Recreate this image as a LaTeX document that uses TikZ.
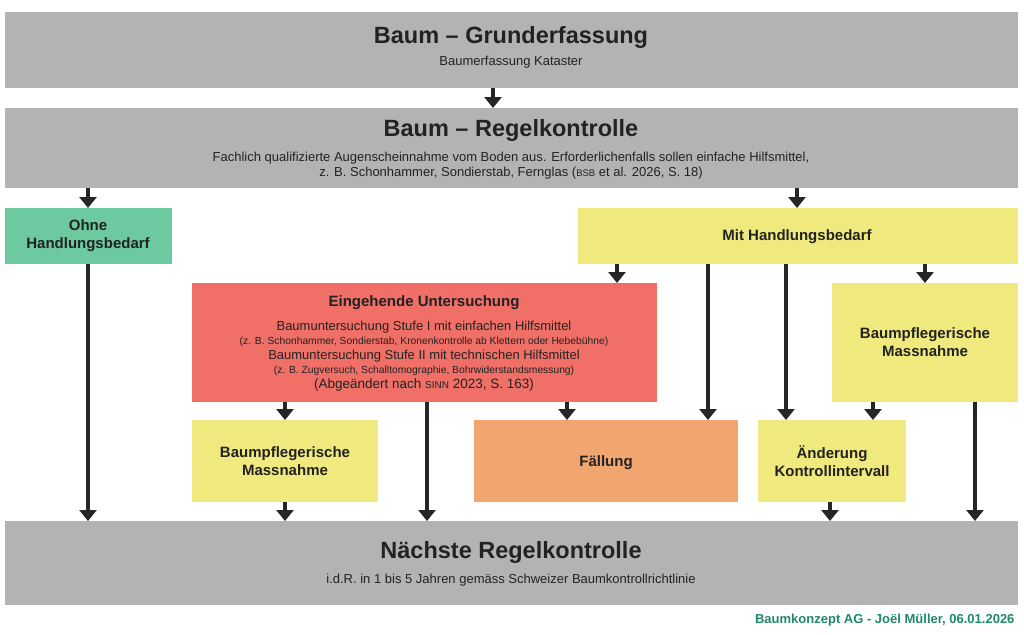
\documentclass[tikz,border=0pt]{standalone}
\usepackage{fontspec}
\setmainfont{Liberation Sans}
\usetikzlibrary{arrows.meta}
\definecolor{grau}{HTML}{B3B4B1}
\definecolor{gruen}{HTML}{6CC9A0}
\definecolor{gelb}{HTML}{F0E97E}
\definecolor{rot}{HTML}{F07068}
\definecolor{orange2}{HTML}{F0A66E}
\definecolor{teal2}{HTML}{1E8A6A}
\definecolor{txt}{HTML}{222222}
\tikzset{
  box/.style={draw=none,inner sep=0pt,anchor=north west,text=txt},
  lbl/.style={text=txt,font=\bfseries\fontsize{15}{18}\selectfont,align=center},
  arr/.style={line width=3.8pt,-{Triangle[length=11pt,width=17pt]},black!85},
}
\begin{document}
\begin{tikzpicture}[x=1pt,y=-1pt]
\useasboundingbox[fill=white] (0,0) rectangle (1024,634);
\node[box,fill=grau,minimum width=1013,minimum height=76] (top) at (5,12) {};
\node[text=txt,font=\bfseries\fontsize{23.5}{26}\selectfont] at (511,37) {Baum – Grunderfassung};
\node[text=txt,font=\fontsize{13}{15}\selectfont] at (511,62) {Baumerfassung Kataster};
\node[box,fill=grau,minimum width=1013,minimum height=80] (reg) at (5,108) {};
\node[text=txt,font=\bfseries\fontsize{23.5}{26}\selectfont] at (511,130) {Baum – Regelkontrolle};
\node[text=txt,font=\fontsize{13}{15}\selectfont,align=center] at (511,166) {Fachlich qualifizierte Augenscheinnahme vom Boden aus. Erforderlichenfalls sollen einfache Hilfsmittel,\\ z. B. Schonhammer, Sondierstab, Fernglas ({\fontsize{9.5}{10}\selectfont BSB} et al. 2026, S. 18)};
\node[box,fill=grau,minimum width=1013,minimum height=84] (next) at (5,521) {};
\node[text=txt,font=\bfseries\fontsize{23.5}{26}\selectfont] at (511,552) {Nächste Regelkontrolle};
\node[text=txt,font=\fontsize{13}{15}\selectfont] at (511,580) {i.d.R. in 1 bis 5 Jahren gemäss Schweizer Baumkontrollrichtlinie};
\node[box,fill=gruen,minimum width=167,minimum height=56] (ohne) at (5,208) {};
\node[lbl] at (88,236) {Ohne\\Handlungsbedarf};
\node[box,fill=gelb,minimum width=440,minimum height=56] (mit) at (578,208) {};
\node[lbl] at (797,237) {Mit Handlungsbedarf};
\node[box,fill=rot,minimum width=465,minimum height=119] (rotb) at (192,283) {};
\node[lbl] at (424,303) {Eingehende Untersuchung};
\node[text=txt,align=center,font=\fontsize{13}{14}\selectfont] at (424,356) {Baumuntersuchung Stufe I mit einfachen Hilfsmittel\\[0pt]
{\fontsize{10.3}{11}\selectfont (z. B. Schonhammer, Sondierstab, Kronenkontrolle ab Klettern oder Hebebühne)}\\[1pt]
Baumuntersuchung Stufe II mit technischen Hilfsmittel\\[0pt]
{\fontsize{10.3}{11}\selectfont (z. B. Zugversuch, Schalltomographie, Bohrwiderstandsmessung)}\\[1pt]
\fontsize{13.5}{15}\selectfont(Abgeändert nach {\fontsize{10}{11}\selectfont SINN} 2023, S. 163)};
\node[box,fill=gelb,minimum width=186,minimum height=119] (pfr) at (832,283) {};
\node[lbl] at (925,342) {Baumpflegerische\\Massnahme};
\node[box,fill=gelb,minimum width=186,minimum height=82] (pfl) at (192,420) {};
\node[lbl] at (285,461) {Baumpflegerische\\Massnahme};
\node[box,fill=orange2,minimum width=264,minimum height=82] (fae) at (474,420) {};
\node[lbl] at (606,463) {Fällung};
\node[box,fill=gelb,minimum width=148,minimum height=82] (aend) at (758,420) {};
\node[lbl] at (832,461) {Änderung\\Kontrollintervall};
\node[anchor=east,text=teal2,font=\bfseries\fontsize{13}{15}\selectfont] (foot) at (1018,620) {Baumkonzept AG - Joël Müller, 06.01.2026};
% arrows
\draw[arr] (top.south -| 493,0) -- (reg.north -| 493,0);
\draw[arr] (reg.south -| 88,0) -- (ohne.north -| 88,0);
\draw[arr] (reg.south -| 797,0) -- (mit.north -| 797,0);
\draw[arr] (ohne.south -| 88,0) -- (next.north -| 88,0);
\draw[arr] (mit.south -| 617,0) -- (rotb.north -| 617,0);
\draw[arr] (mit.south -| 708,0) -- (fae.north -| 708,0);
\draw[arr] (mit.south -| 786,0) -- (aend.north -| 786,0);
\draw[arr] (mit.south -| 925,0) -- (pfr.north -| 925,0);
\draw[arr] (rotb.south -| 285,0) -- (pfl.north -| 285,0);
\draw[arr] (rotb.south -| 427,0) -- (next.north -| 427,0);
\draw[arr] (rotb.south -| 567,0) -- (fae.north -| 567,0);
\draw[arr] (pfr.south -| 873,0) -- (aend.north -| 873,0);
\draw[arr] (pfr.south -| 975,0) -- (next.north -| 975,0);
\draw[arr] (pfl.south -| 285,0) -- (next.north -| 285,0);
\draw[arr] (aend.south -| 830,0) -- (next.north -| 830,0);
\end{tikzpicture}
\end{document}
